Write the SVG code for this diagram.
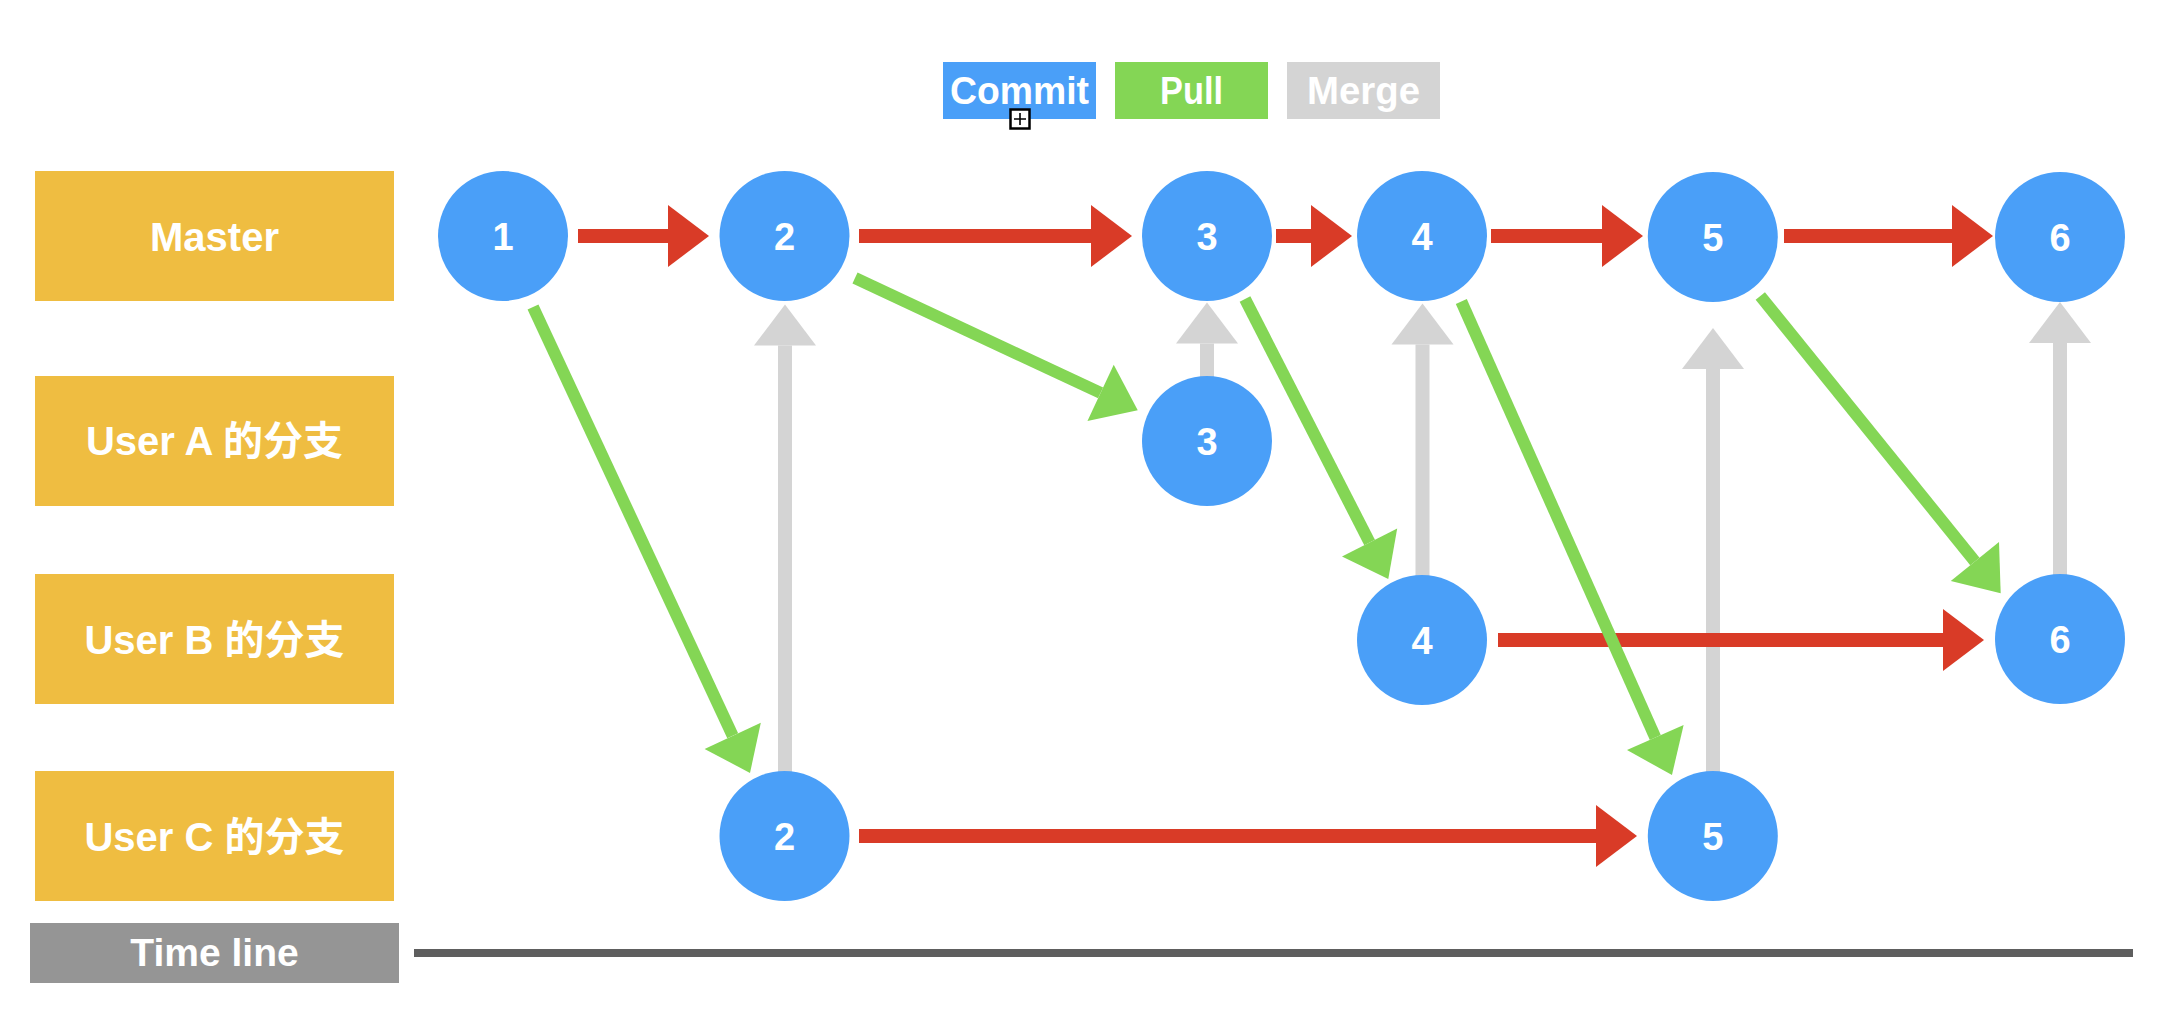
<svg xmlns="http://www.w3.org/2000/svg" width="2176" height="1028" viewBox="0 0 2176 1028">
<style>
  text { font-family: "Liberation Sans", Arial, "Noto Sans CJK SC", sans-serif; font-weight: bold; fill: #ffffff; text-anchor: middle; }
  .lbl { font-size: 40px; }
  .num { font-size: 38px; }
  .leg { font-size: 38px; }
  .lane { fill: #efbd41; }
  .node { fill: #4a9ff8; }
  .commit { stroke: #d93b27; stroke-width: 14; fill: none; marker-end: url(#hRed); }
  .merge { stroke: #d4d4d4; stroke-width: 14; fill: none; marker-end: url(#hGrey); }
  .pull { stroke: #84d655; stroke-width: 12; fill: none; marker-end: url(#hGreen); }
</style>
<defs>
  <marker id="hRed" markerUnits="userSpaceOnUse" markerWidth="42" markerHeight="62" refX="0" refY="31" orient="auto" overflow="visible">
    <path d="M0,0 L41,31 L0,62 Z" fill="#d93b27"/>
  </marker>
  <marker id="hGrey" markerUnits="userSpaceOnUse" markerWidth="42" markerHeight="62" refX="0" refY="31" orient="auto" overflow="visible">
    <path d="M0,0 L41,31 L0,62 Z" fill="#d4d4d4"/>
  </marker>
  <marker id="hGreen" markerUnits="userSpaceOnUse" markerWidth="42" markerHeight="62" refX="0" refY="31" orient="auto" overflow="visible">
    <path d="M0,0 L41,31 L0,62 Z" fill="#84d655"/>
  </marker>
</defs>
<rect width="2176" height="1028" fill="#ffffff"/>

<g id="legend">
  <rect x="943" y="62" width="153" height="57" fill="#4a9ff8"/>
  <text class="leg" x="1019.5" y="104" textLength="139" lengthAdjust="spacingAndGlyphs">Commit</text>
  <rect x="1115" y="62" width="153" height="57" fill="#84d655"/>
  <text class="leg" x="1191.5" y="104" textLength="63" lengthAdjust="spacingAndGlyphs">Pull</text>
  <rect x="1287" y="62" width="153" height="57" fill="#d4d4d4"/>
  <text class="leg" x="1363.5" y="104" textLength="113" lengthAdjust="spacingAndGlyphs">Merge</text>
  <rect x="1010.5" y="109.5" width="19" height="19" fill="#ffffff" stroke="#000000" stroke-width="2.5"/>
  <path d="M1014,119 H1026 M1020,113 V125" stroke="#000000" stroke-width="1.6"/>
</g>

<g id="lanes">
  <g id="lane-master"><rect class="lane" x="35" y="171" width="359" height="130"/><text class="lbl" x="214.5" y="250.5">Master</text></g>
  <g id="lane-a"><rect class="lane" x="35" y="376" width="359" height="130"/><text class="lbl" x="214.5" y="455">User A 的分支</text></g>
  <g id="lane-b"><rect class="lane" x="35" y="574" width="359" height="130"/><text class="lbl" x="214.5" y="653.5">User B 的分支</text></g>
  <g id="lane-c"><rect class="lane" x="35" y="771" width="359" height="130"/><text class="lbl" x="214.5" y="850.5">User C 的分支</text></g>
  <g id="timeline"><rect x="30" y="923" width="369" height="60" fill="#959595"/><text x="214.5" y="966" style="font-size:39px">Time line</text>
    <line x1="414" y1="953" x2="2133" y2="953" stroke="#5e5e5e" stroke-width="8"/></g>
</g>

<g id="connectors">
  <line class="commit" x1="578" y1="236" x2="668" y2="236"/>
  <line class="commit" x1="859" y1="236" x2="1091" y2="236"/>
  <line class="commit" x1="1276" y1="236" x2="1311" y2="236"/>
  <line class="commit" x1="1491" y1="236" x2="1602" y2="236"/>
  <line class="commit" x1="1784" y1="236" x2="1952" y2="236"/>
  <line class="commit" x1="859" y1="836" x2="1596" y2="836"/>

  <line class="merge" x1="785" y1="775" x2="785" y2="345.5"/>
  <line class="merge" x1="1207" y1="380" x2="1207" y2="343.5"/>
  <line class="merge" x1="1422.5" y1="579" x2="1422.5" y2="344.5"/>
  <line class="merge" x1="1713" y1="775" x2="1713" y2="369"/>
  <line class="merge" x1="2060" y1="578" x2="2060" y2="343"/>

  <line class="commit" x1="1498" y1="640" x2="1943" y2="640"/>

  <line class="pull" x1="533" y1="307" x2="732.7" y2="735.8"/>
  <line class="pull" x1="855" y1="278" x2="1100.6" y2="392.9"/>
  <line class="pull" x1="1245" y1="299" x2="1369.6" y2="542.5"/>
  <line class="pull" x1="1461.3" y1="301.5" x2="1655.3" y2="737.5"/>
  <line class="pull" x1="1760.3" y1="296" x2="1974.9" y2="561.4"/>
</g>

<g id="nodes">
  <g id="m1"><circle class="node" cx="503" cy="236" r="65"/><text class="num" x="503" y="249.5">1</text></g>
  <g id="m2"><circle class="node" cx="784.5" cy="236" r="65"/><text class="num" x="784.5" y="249.5">2</text></g>
  <g id="m3"><circle class="node" cx="1207" cy="236" r="65"/><text class="num" x="1207" y="249.5">3</text></g>
  <g id="m4"><circle class="node" cx="1422" cy="236" r="65"/><text class="num" x="1422" y="249.5">4</text></g>
  <g id="m5"><circle class="node" cx="1712.8" cy="237" r="65"/><text class="num" x="1712.8" y="250.5">5</text></g>
  <g id="m6"><circle class="node" cx="2060" cy="237" r="65"/><text class="num" x="2060" y="250.5">6</text></g>
  <g id="a3"><circle class="node" cx="1207" cy="441" r="65"/><text class="num" x="1207" y="454.5">3</text></g>
  <g id="b4"><circle class="node" cx="1422" cy="640" r="65"/><text class="num" x="1422" y="653.5">4</text></g>
  <g id="b6"><circle class="node" cx="2060" cy="639" r="65"/><text class="num" x="2060" y="652.5">6</text></g>
  <g id="c2"><circle class="node" cx="784.5" cy="836" r="65"/><text class="num" x="784.5" y="849.5">2</text></g>
  <g id="c5"><circle class="node" cx="1712.8" cy="836" r="65"/><text class="num" x="1712.8" y="849.5">5</text></g>
</g>
</svg>
